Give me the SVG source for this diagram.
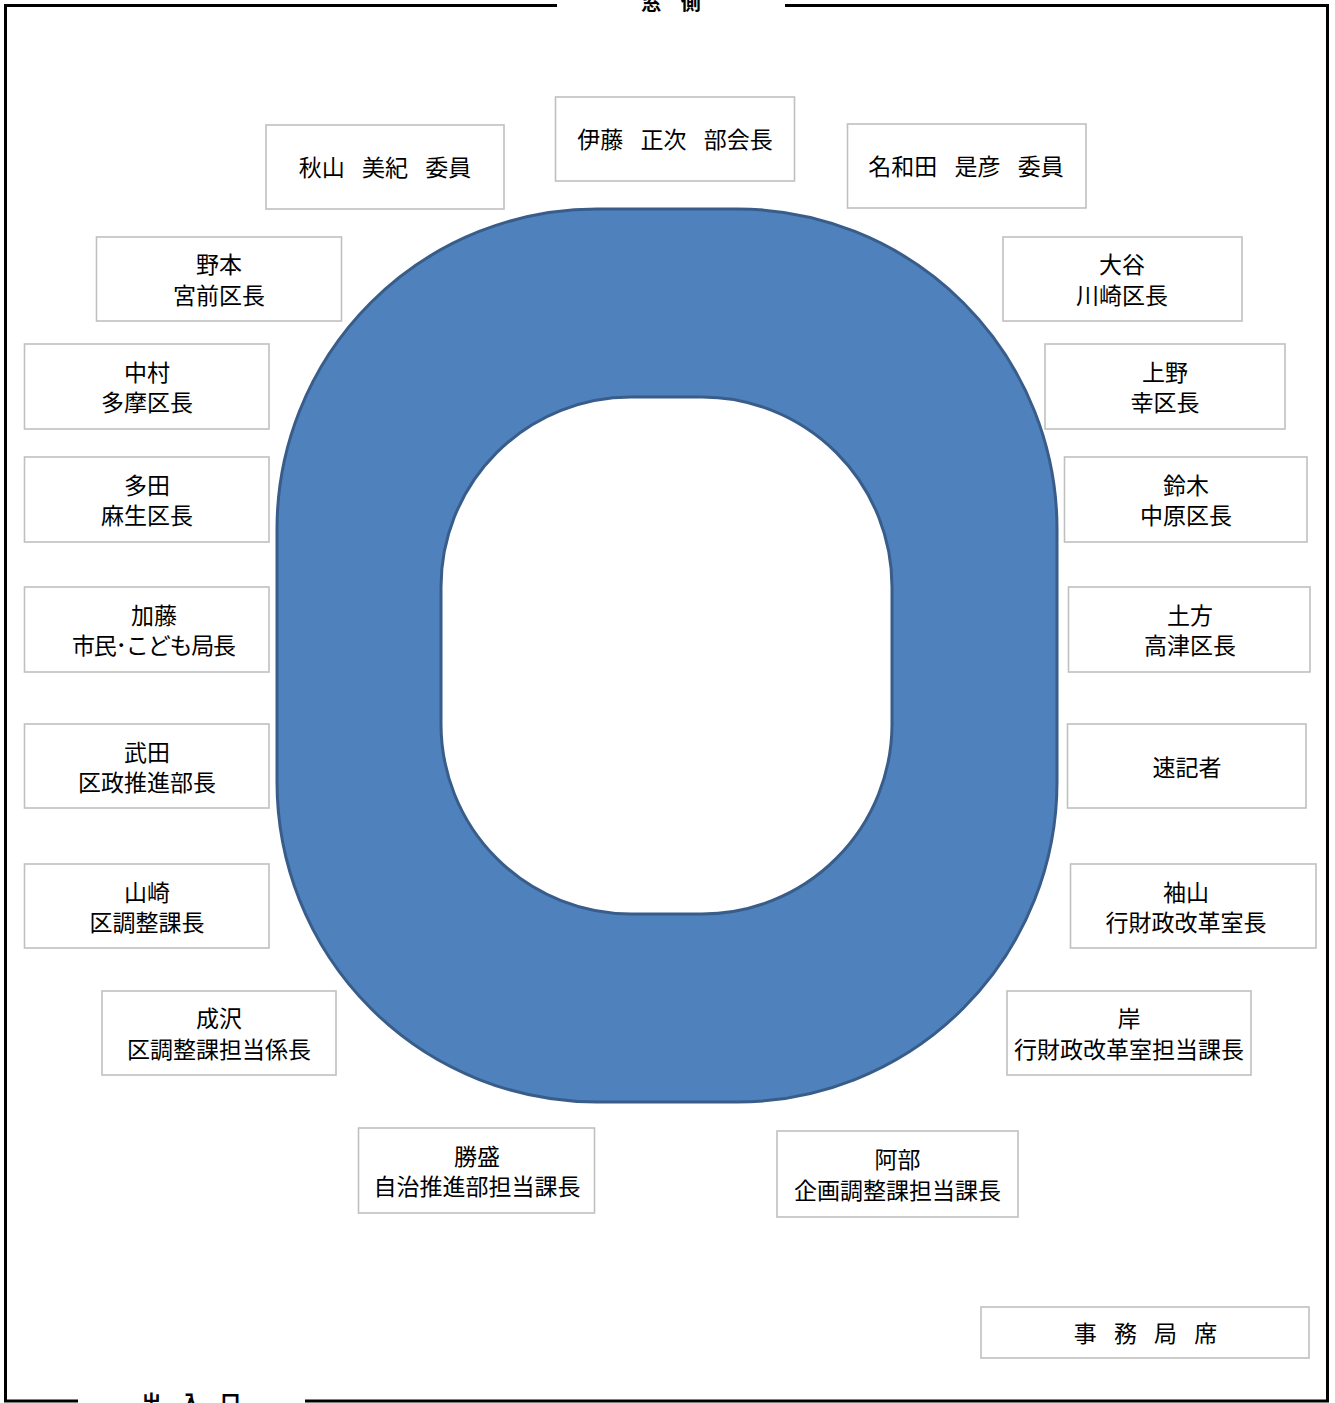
<svg xmlns="http://www.w3.org/2000/svg" width="1335" height="1403" viewBox="0 0 1335 1403">
<style>
.box{fill:#ffffff;stroke:#c0c0c0;stroke-width:1.6}
.t{font-family:"Noto Sans CJK JP","Noto Sans CJK SC",sans-serif;font-size:23px;fill:#000;text-anchor:middle;word-spacing:12px}
.lbl{font-family:"Noto Sans CJK JP","Noto Sans CJK SC",sans-serif;font-size:20px;font-weight:bold;fill:#000;text-anchor:middle;word-spacing:15px}
.frame{fill:none;stroke:#000;stroke-width:3}
</style>
<rect width="1335" height="1403" fill="#ffffff"/>
<g id="frame">
<path class="frame" d="M 557 5.5 H 5.5 V 1401 H 78"/>
<path class="frame" d="M 785 5.5 H 1327.5 V 1401 H 305"/>
<text class="lbl" x="671" y="10">窓 側</text>
<text class="lbl" x="191" y="1410">出 入 口</text>
</g>
<g id="table">
<path d="M 597 209 H 737 A 320 320 0 0 1 1057 529 V 782 A 320 320 0 0 1 737 1102 H 597 A 320 320 0 0 1 277 782 V 529 A 320 320 0 0 1 597 209 Z M 631 397 H 702 A 190 190 0 0 1 892 587 V 724 A 190 190 0 0 1 702 914 H 631 A 190 190 0 0 1 441 724 V 587 A 190 190 0 0 1 631 397 Z" fill="#4f81bd" fill-rule="evenodd" stroke="#385d8a" stroke-width="3"/>
</g>
<g id="akiyama"><rect class="box" x="266" y="125" width="238" height="84"/><text class="t" x="385" y="176">秋山 美紀 委員</text></g>
<g id="ito"><rect class="box" x="555.5" y="97" width="239" height="84"/><text class="t" x="675" y="148">伊藤 正次 部会長</text></g>
<g id="nawata"><rect class="box" x="847.5" y="124" width="238.5" height="84"/><text class="t" x="966" y="175">名和田 是彦 委員</text></g>
<g id="nomoto"><rect class="box" x="96.5" y="237" width="245" height="84"/><text class="t" x="219" y="273">野本</text><text class="t" x="219" y="304">宮前区長</text></g>
<g id="otani"><rect class="box" x="1003" y="237" width="239" height="84"/><text class="t" x="1122" y="273">大谷</text><text class="t" x="1122" y="304">川崎区長</text></g>
<g id="nakamura"><rect class="box" x="24.5" y="344" width="244.5" height="85"/><text class="t" x="147" y="381">中村</text><text class="t" x="147" y="411">多摩区長</text></g>
<g id="ueno"><rect class="box" x="1045" y="344" width="240" height="85"/><text class="t" x="1165" y="381">上野</text><text class="t" x="1165" y="411">幸区長</text></g>
<g id="tada"><rect class="box" x="24.5" y="457" width="244.5" height="85"/><text class="t" x="147" y="494">多田</text><text class="t" x="147" y="524">麻生区長</text></g>
<g id="suzuki"><rect class="box" x="1064.5" y="457" width="242.5" height="85"/><text class="t" x="1186" y="494">鈴木</text><text class="t" x="1186" y="524">中原区長</text></g>
<g id="kato"><rect class="box" x="24.5" y="587" width="244.5" height="85"/><text class="t" x="154" y="624">加藤</text><text class="t" x="154" y="654" textLength="164" lengthAdjust="spacing">市民･こども局長</text></g>
<g id="hijikata"><rect class="box" x="1068.5" y="587" width="241.5" height="85"/><text class="t" x="1190" y="624">土方</text><text class="t" x="1190" y="654">高津区長</text></g>
<g id="takeda"><rect class="box" x="24.5" y="724" width="244.5" height="84"/><text class="t" x="147" y="761">武田</text><text class="t" x="147" y="791">区政推進部長</text></g>
<g id="sokkisha"><rect class="box" x="1067.5" y="724" width="238.5" height="84"/><text class="t" x="1187" y="776">速記者</text></g>
<g id="yamazaki"><rect class="box" x="24.5" y="864" width="244.5" height="84"/><text class="t" x="147" y="901">山崎</text><text class="t" x="147" y="931">区調整課長</text></g>
<g id="sodeyama"><rect class="box" x="1070.5" y="864" width="245.5" height="84"/><text class="t" x="1186" y="901">袖山</text><text class="t" x="1186" y="931">行財政改革室長</text></g>
<g id="narusawa"><rect class="box" x="102" y="991" width="234" height="84"/><text class="t" x="219" y="1027">成沢</text><text class="t" x="219" y="1058">区調整課担当係長</text></g>
<g id="kishi"><rect class="box" x="1007" y="991" width="244" height="84"/><text class="t" x="1129" y="1027">岸</text><text class="t" x="1129" y="1058">行財政改革室担当課長</text></g>
<g id="katsumori"><rect class="box" x="358.5" y="1128" width="236" height="85"/><text class="t" x="477" y="1165">勝盛</text><text class="t" x="477" y="1195">自治推進部担当課長</text></g>
<g id="abe"><rect class="box" x="777" y="1131" width="241" height="86"/><text class="t" x="897.5" y="1168">阿部</text><text class="t" x="897.5" y="1199">企画調整課担当課長</text></g>
<g id="jimukyoku"><rect class="box" x="981" y="1307" width="328" height="51"/><text class="t" x="1145.5" y="1342">事 務 局 席</text></g>
<g id="connectors"></g>
</svg>
